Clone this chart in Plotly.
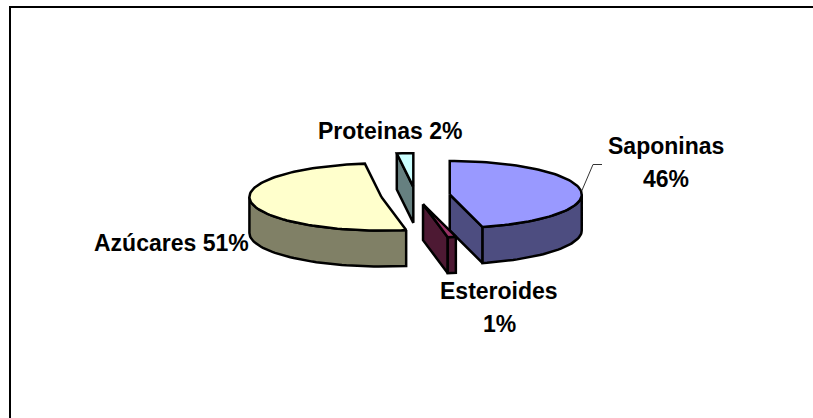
import math
import plotly.graph_objects as go

# Composition shares, in pie order (clockwise from twelve o'clock)
categories = ["Saponinas", "Esteroides", "Azúcares", "Proteinas"]
shares = [46, 1, 51, 2]
top_colors = ["#9999FF", "#993366", "#FFFFCC", "#CCFFFF"]
side_colors = ["#4D4D80", "#4D1933", "#808066", "#668080"]

# Pie projection, in canvas pixels
CENTER_X, CENTER_Y = 415.5, 195.6
RADIUS_X, RADIUS_Y = 132.0, 33.6
DEPTH = 36.0
EXPLODE = 34.5
FONT = dict(family="Liberation Sans, Arial, sans-serif", size=23, color="black")

# Text lines of each label: (text, centre x, centre y)
label_lines = [
    ("Saponinas", 665.5, 146),
    ("46%", 665.5, 179),
    ("Esteroides", 499, 291),
    ("1%", 499, 324),
    ("Azúcares 51%", 171, 243),
    ("Proteinas 2%", 389.5, 131),
]


def rim(cx, cy, deg):
    a = math.radians(deg)
    return cx + RADIUS_X * math.sin(a), cy - RADIUS_Y * math.cos(a)


def arc(cx, cy, start, end):
    n = max(2, int(abs(end - start) / 2) + 1)
    return [rim(cx, cy, start + (end - start) * i / (n - 1)) for i in range(n)]


def face(points, color):
    xs, ys = zip(*points)
    return go.Scatter(
        x=list(xs) + [xs[0]], y=list(ys) + [ys[0]],
        mode="lines", fill="toself", fillcolor=color,
        line=dict(color="black", width=2.5), hoverinfo="skip", showlegend=False,
    )


def down(points):
    return [(x, y + DEPTH) for x, y in points]


fig = go.Figure()
total = sum(shares)
start = 0.0
# Far slices first so nearer ones overlap them
slices = []
for name, share, top, side in zip(categories, shares, top_colors, side_colors):
    end = start + 360.0 * share / total
    mid = math.radians((start + end) / 2)
    cx = CENTER_X + EXPLODE * math.sin(mid)
    cy = CENTER_Y - EXPLODE * RADIUS_Y / RADIUS_X * math.cos(mid)
    slices.append((start, end, cx, cy, top, side))
    start = end

for start, end, cx, cy, top, side in sorted(slices, key=lambda s: s[3]):
    # Cut faces turned towards the viewer
    if 90 < end < 270:
        edge = [(cx, cy), rim(cx, cy, end)]
        fig.add_trace(face(edge + down(edge)[::-1], side))
    if 270 < start < 360:
        edge = [(cx, cy), rim(cx, cy, start)]
        fig.add_trace(face(edge + down(edge)[::-1], side))
    # Outer wall along the front half of the ellipse
    lo, hi = max(start, 90.0), min(end, 270.0)
    if lo < hi:
        wall = arc(cx, cy, lo, hi)
        fig.add_trace(face(wall + down(wall)[::-1], side))
    # Top surface
    fig.add_trace(face([(cx, cy)] + arc(cx, cy, start, end), top))

# Leader line of the Saponinas label
fig.add_trace(go.Scatter(
    x=[581.7, 593, 602], y=[191, 164.5, 164.5], mode="lines",
    line=dict(color="#333333", width=1), hoverinfo="skip", showlegend=False,
))

# Chart frame: only the top and left edges fall on the canvas
fig.add_shape(type="line", x0=10, x1=813, y0=7, y1=7, line=dict(color="black", width=2))
fig.add_shape(type="line", x0=10, x1=10, y0=6, y1=418, line=dict(color="black", width=2))

for text, x, y in label_lines:
    fig.add_annotation(
        x=x, y=y, text=f"<b>{text}</b>", showarrow=False,
        xanchor="center", yanchor="middle", font=FONT,
    )

fig.update_layout(
    width=813, height=418, margin=dict(l=0, r=0, t=0, b=0),
    paper_bgcolor="white", plot_bgcolor="white", showlegend=False,
    xaxis=dict(range=[0, 813], visible=False, fixedrange=True),
    yaxis=dict(range=[418, 0], visible=False, fixedrange=True),
)
fig.write_html("out.html", config={"displayModeBar": False})
